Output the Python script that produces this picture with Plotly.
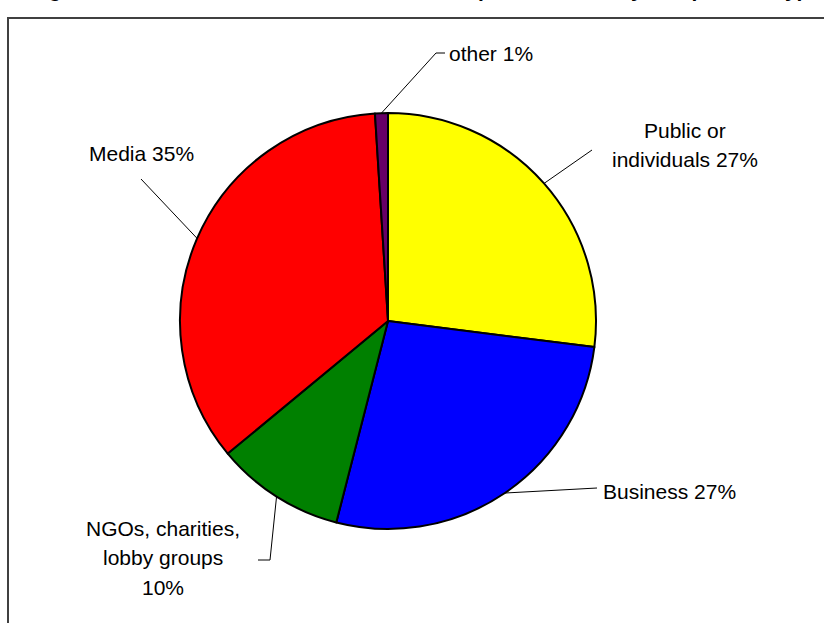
import math
import plotly.graph_objects as go

# Complainant categories, clockwise from 12 o'clock
categories = ["Public or individuals", "Business", "NGOs, charities, lobby groups", "Media", "other"]
shares = [27, 27, 10, 35, 1]
colors = ["#FFFF00", "#0000FF", "#008000", "#FF0000", "#660066"]

# Label text lines for each category
label_lines = [
    ["Public or", "individuals 27%"],
    ["Business 27%"],
    ["NGOs, charities,", "lobby groups", "10%"],
    ["Media 35%"],
    ["other 1%"],
]

W, H = 824, 623
CX, CY, R = 388, 321, 208  # pie centre / radius in pixels


def px(x):
    return x / W


def py(y):
    return 1 - y / H


fig = go.Figure()
fig.add_trace(go.Pie(
    labels=categories,
    values=shares,
    sort=False,
    direction="clockwise",
    rotation=0,
    marker=dict(colors=colors, line=dict(color="#000000", width=2)),
    textinfo="none",
    hoverinfo="label+percent",
    showlegend=False,
    domain=dict(x=[px(CX - R), px(CX + R)], y=[py(CY + R), py(CY - R)]),
))

# Label placement: anchor, x, first line y, leader path end points
placements = [
    dict(xanchor="center", x=685, y=130, path=[(592, 150)]),
    dict(xanchor="left", x=601, y=491, path=[(597, 488)]),
    dict(xanchor="center", x=163, y=528, path=[(270, 560), (258, 560)]),
    dict(xanchor="left", x=87, y=153, path=[(141, 179)]),
    dict(xanchor="left", x=447, y=53, path=[(436, 53), (445, 53)]),
]
LINE_GAP = 29.5
font = dict(family="Arial, Liberation Sans, sans-serif", size=21, color="#000000")

total = sum(shares)
cum = 0
annotations = []
shapes = []
for v, lines, pl in zip(shares, label_lines, placements):
    mid = (cum + v / 2) / total * 2 * math.pi
    cum += v
    ex = CX + R * math.sin(mid)
    ey = CY - R * math.cos(mid)
    pts = [(ex, ey)] + pl["path"]
    for (x0, y0), (x1, y1) in zip(pts[:-1], pts[1:]):
        shapes.append(dict(type="line", xref="paper", yref="paper",
                           x0=px(x0), y0=py(y0), x1=px(x1), y1=py(y1),
                           line=dict(color="#000000", width=1)))
    for i, line in enumerate(lines):
        annotations.append(dict(
            text=line, xref="paper", yref="paper",
            x=px(pl["x"]), y=py(pl["y"] + i * LINE_GAP),
            xanchor=pl["xanchor"], yanchor="middle",
            showarrow=False, font=font,
        ))

# Chart title (sits above the visible area)
annotations.append(dict(
    text="<b>Figure 4: Sources of the total number of complaints made, by complainant type</b>",
    xref="paper", yref="paper", x=px(425), y=py(3), xanchor="center", yanchor="bottom",
    showarrow=False, font=dict(family="Arial, Liberation Sans, sans-serif", size=21, color="#000000"),
))

# Chart-area frame
shapes.append(dict(type="rect", xref="paper", yref="paper",
                   x0=px(8), y0=-0.1, x1=1.1, y1=py(18),
                   line=dict(color="#404040", width=2), fillcolor="rgba(0,0,0,0)", layer="below"))

fig.update_layout(
    width=W, height=H,
    margin=dict(l=0, r=0, t=0, b=0),
    paper_bgcolor="#FFFFFF",
    plot_bgcolor="#FFFFFF",
    annotations=annotations,
    shapes=shapes,
)

fig.write_html("out.html")
